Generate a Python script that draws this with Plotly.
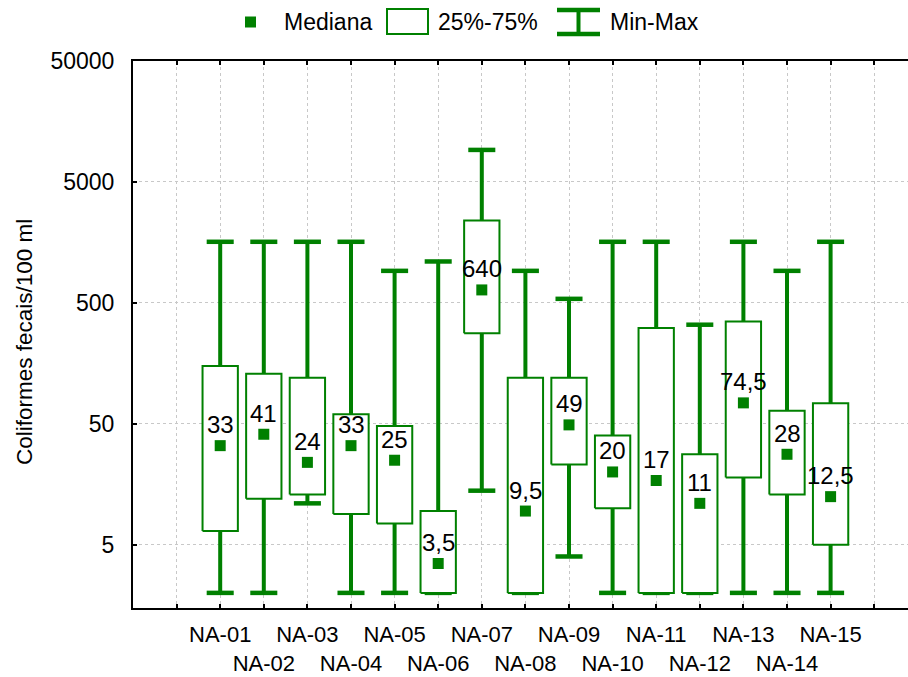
import math
import plotly.graph_objects as go

categories = ["NA-01", "NA-02", "NA-03", "NA-04", "NA-05", "NA-06", "NA-07", "NA-08",
              "NA-09", "NA-10", "NA-11", "NA-12", "NA-13", "NA-14", "NA-15"]
medians = [33, 41, 24, 33, 25, 3.5, 640, 9.5, 49, 20, 17, 11, 74.5, 28, 12.5]
median_labels = ["33", "41", "24", "33", "25", "3,5", "640", "9,5", "49", "20", "17", "11", "74,5", "28", "12,5"]
q1 = [6.5, 12, 13, 9, 7.5, 2, 280, 2, 23, 10, 2, 2, 18, 13, 5]
q3 = [150, 130, 120, 60, 48, 9.5, 2400, 120, 120, 40, 310, 28, 350, 64, 74]
mins = [2, 2, 11, 2, 2, 2, 14, 2, 4, 2, 2, 2, 2, 2, 2]
maxs = [1600, 1600, 1600, 1600, 920, 1100, 9200, 920, 540, 1600, 1600, 330, 1600, 920, 1600]
y_ticks = [5, 50, 500, 5000, 50000]

GREEN = "#008000"
FONT = "Liberation Sans, Arial, sans-serif"
xpos = [i + 2 for i in range(len(categories))]
BOX_HW = 0.405
CAP_HW = 0.31

# whiskers
wx, wy = [], []
for x, lo, hi in zip(xpos, mins, maxs):
    wx += [x, x, None]
    wy += [lo, hi, None]
# caps
cx, cy = [], []
for x, lo, hi in zip(xpos, mins, maxs):
    cx += [x - CAP_HW, x + CAP_HW, None, x - CAP_HW, x + CAP_HW, None]
    cy += [lo, lo, None, hi, hi, None]
# boxes
bx, by = [], []
for x, a, b in zip(xpos, q1, q3):
    bx += [x - BOX_HW, x + BOX_HW, x + BOX_HW, x - BOX_HW, x - BOX_HW, None]
    by += [a, a, b, b, a, None]

fig = go.Figure()
fig.add_trace(go.Scatter(x=wx, y=wy, mode="lines", line=dict(color=GREEN, width=4),
                         hoverinfo="skip", showlegend=False))
fig.add_trace(go.Scatter(x=cx, y=cy, mode="lines", line=dict(color=GREEN, width=4.5),
                         hoverinfo="skip", showlegend=False))
fig.add_trace(go.Scatter(x=bx, y=by, mode="lines", fill="toself", fillcolor="white",
                         line=dict(color=GREEN, width=2), hoverinfo="skip", showlegend=False))
fig.add_trace(go.Scatter(x=xpos, y=medians, mode="markers",
                         marker=dict(symbol="square", size=11, color=GREEN),
                         showlegend=False))

for x, m, t in zip(xpos, medians, median_labels):
    fig.add_annotation(x=x, y=math.log10(m), yref="y", xref="x", text=t, showarrow=False,
                       yshift=21, font=dict(family=FONT, size=24, color="black"))

# x tick labels, alternating rows
tickvals = [1] + xpos + [17]
ticktext = [""] + [c if i % 2 == 0 else "<br>" + c for i, c in enumerate(categories)] + [""]

L, T, B = 133, 61, 69
W, H = 908, 677
PW = W - L
PH = H - T - B


def px(p):
    return (p - L) / PW


def py(p):
    return (H - B - p) / PH


# manual legend
shapes = [
    dict(type="rect", xref="paper", yref="paper", x0=px(245), x1=px(256), y0=py(27.5), y1=py(16.5),
         fillcolor=GREEN, line=dict(width=0)),
    dict(type="rect", xref="paper", yref="paper", x0=px(387), x1=px(428), y0=py(34), y1=py(9),
         fillcolor="white", line=dict(color=GREEN, width=2)),
    dict(type="line", xref="paper", yref="paper", x0=px(557), x1=px(600), y0=py(10), y1=py(10),
         line=dict(color=GREEN, width=4.5)),
    dict(type="line", xref="paper", yref="paper", x0=px(557), x1=px(600), y0=py(34), y1=py(34),
         line=dict(color=GREEN, width=4.5)),
    dict(type="line", xref="paper", yref="paper", x0=px(578.5), x1=px(578.5), y0=py(10), y1=py(34),
         line=dict(color=GREEN, width=4)),
]
for text, left in [("Mediana", 282), ("25%-75%", 436), ("Min-Max", 608)]:
    fig.add_annotation(xref="paper", yref="paper", x=px(left), y=py(22), text=text,
                       showarrow=False, xanchor="left", yanchor="middle",
                       font=dict(family=FONT, size=23, color="black"))

fig.add_annotation(xref="paper", yref="paper", x=px(24), y=py(342), text="Coliformes fecais/100 ml",
                   textangle=-90, showarrow=False, xanchor="center", yanchor="middle",
                   font=dict(family=FONT, size=22.5, color="black"))

fig.update_layout(
    width=W, height=H,
    margin=dict(l=L, r=0, t=T, b=B, pad=0, autoexpand=False),
    plot_bgcolor="white", paper_bgcolor="white",
    shapes=shapes,
    showlegend=False,
    font=dict(family=FONT, size=23, color="black"),
    xaxis=dict(range=[0, PW / 43.6], tickmode="array", tickvals=tickvals, ticktext=ticktext,
               tickangle=0, automargin=False,
               showgrid=True, gridcolor="#c8c8c8", griddash="3px,3px", gridwidth=1,
               showline=True, linecolor="black", linewidth=2, mirror="ticks",
               ticks="inside", ticklen=4, tickwidth=2, tickcolor="black",
               ticklabelstandoff=6, zeroline=False,
               tickfont=dict(family=FONT, size=22, color="black")),
    yaxis=dict(type="log", range=[0.17609, 4.69897], tickmode="array", tickvals=y_ticks,
               ticktext=[str(v) for v in y_ticks], automargin=False,
               showgrid=True, gridcolor="#c8c8c8", griddash="3px,3px", gridwidth=1,
               showline=True, linecolor="black", linewidth=2, mirror=False,
               ticks="inside", ticklen=4, tickwidth=2, tickcolor="black",
               ticklabelstandoff=12, zeroline=False,
               tickfont=dict(family=FONT, size=23, color="black")),
)

fig.write_html("out.html")
